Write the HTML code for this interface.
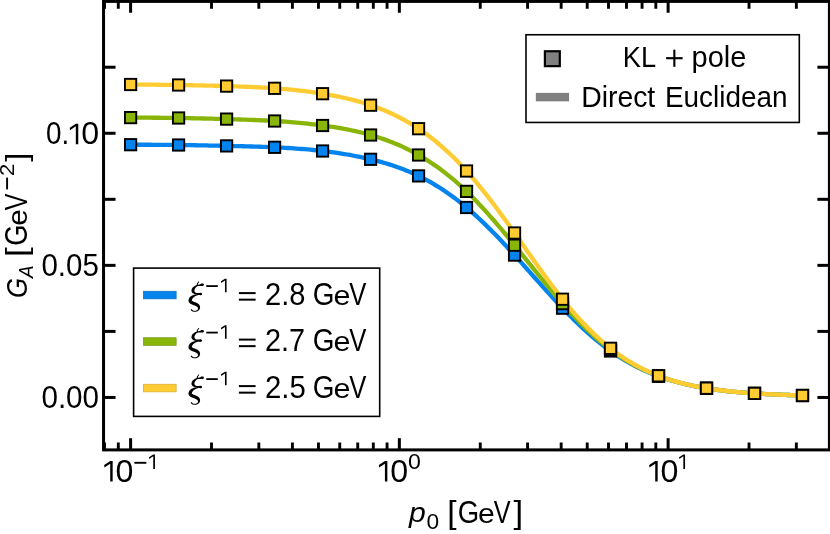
<!DOCTYPE html>
<html><head><meta charset="utf-8"><title>G_A vs p0</title>
<style>html,body{margin:0;padding:0;background:#fff;}svg{display:block;will-change:transform;}text{white-space:pre;}</style></head>
<body>
<svg width="830" height="534" viewBox="0 0 830 534" font-family="'Liberation Sans', sans-serif" font-size="27.0" fill="#000">
<rect x="0" y="0" width="830" height="534" fill="#fff"/>
<line x1="130.60" y1="449.90" x2="130.60" y2="438.20" stroke="#000" stroke-width="3.0"/>
<line x1="130.60" y1="0.00" x2="130.60" y2="12.75" stroke="#000" stroke-width="3.0"/>
<line x1="399.36" y1="449.90" x2="399.36" y2="438.20" stroke="#000" stroke-width="3.0"/>
<line x1="399.36" y1="0.00" x2="399.36" y2="12.75" stroke="#000" stroke-width="3.0"/>
<line x1="668.12" y1="449.90" x2="668.12" y2="438.20" stroke="#000" stroke-width="3.0"/>
<line x1="668.12" y1="0.00" x2="668.12" y2="12.75" stroke="#000" stroke-width="3.0"/>
<line x1="104.50" y1="449.90" x2="104.50" y2="442.50" stroke="#000" stroke-width="2.9"/>
<line x1="104.50" y1="0.00" x2="104.50" y2="8.76" stroke="#000" stroke-width="2.9"/>
<line x1="118.30" y1="449.90" x2="118.30" y2="442.50" stroke="#000" stroke-width="2.9"/>
<line x1="118.30" y1="0.00" x2="118.30" y2="8.76" stroke="#000" stroke-width="2.9"/>
<line x1="211.50" y1="449.90" x2="211.50" y2="442.50" stroke="#000" stroke-width="2.9"/>
<line x1="211.50" y1="0.00" x2="211.50" y2="8.76" stroke="#000" stroke-width="2.9"/>
<line x1="258.83" y1="449.90" x2="258.83" y2="442.50" stroke="#000" stroke-width="2.9"/>
<line x1="258.83" y1="0.00" x2="258.83" y2="8.76" stroke="#000" stroke-width="2.9"/>
<line x1="292.41" y1="449.90" x2="292.41" y2="442.50" stroke="#000" stroke-width="2.9"/>
<line x1="292.41" y1="0.00" x2="292.41" y2="8.76" stroke="#000" stroke-width="2.9"/>
<line x1="318.46" y1="449.90" x2="318.46" y2="442.50" stroke="#000" stroke-width="2.9"/>
<line x1="318.46" y1="0.00" x2="318.46" y2="8.76" stroke="#000" stroke-width="2.9"/>
<line x1="339.74" y1="449.90" x2="339.74" y2="442.50" stroke="#000" stroke-width="2.9"/>
<line x1="339.74" y1="0.00" x2="339.74" y2="8.76" stroke="#000" stroke-width="2.9"/>
<line x1="357.73" y1="449.90" x2="357.73" y2="442.50" stroke="#000" stroke-width="2.9"/>
<line x1="357.73" y1="0.00" x2="357.73" y2="8.76" stroke="#000" stroke-width="2.9"/>
<line x1="373.31" y1="449.90" x2="373.31" y2="442.50" stroke="#000" stroke-width="2.9"/>
<line x1="373.31" y1="0.00" x2="373.31" y2="8.76" stroke="#000" stroke-width="2.9"/>
<line x1="387.06" y1="449.90" x2="387.06" y2="442.50" stroke="#000" stroke-width="2.9"/>
<line x1="387.06" y1="0.00" x2="387.06" y2="8.76" stroke="#000" stroke-width="2.9"/>
<line x1="480.26" y1="449.90" x2="480.26" y2="442.50" stroke="#000" stroke-width="2.9"/>
<line x1="480.26" y1="0.00" x2="480.26" y2="8.76" stroke="#000" stroke-width="2.9"/>
<line x1="527.59" y1="449.90" x2="527.59" y2="442.50" stroke="#000" stroke-width="2.9"/>
<line x1="527.59" y1="0.00" x2="527.59" y2="8.76" stroke="#000" stroke-width="2.9"/>
<line x1="561.17" y1="449.90" x2="561.17" y2="442.50" stroke="#000" stroke-width="2.9"/>
<line x1="561.17" y1="0.00" x2="561.17" y2="8.76" stroke="#000" stroke-width="2.9"/>
<line x1="587.22" y1="449.90" x2="587.22" y2="442.50" stroke="#000" stroke-width="2.9"/>
<line x1="587.22" y1="0.00" x2="587.22" y2="8.76" stroke="#000" stroke-width="2.9"/>
<line x1="608.50" y1="449.90" x2="608.50" y2="442.50" stroke="#000" stroke-width="2.9"/>
<line x1="608.50" y1="0.00" x2="608.50" y2="8.76" stroke="#000" stroke-width="2.9"/>
<line x1="626.49" y1="449.90" x2="626.49" y2="442.50" stroke="#000" stroke-width="2.9"/>
<line x1="626.49" y1="0.00" x2="626.49" y2="8.76" stroke="#000" stroke-width="2.9"/>
<line x1="642.07" y1="449.90" x2="642.07" y2="442.50" stroke="#000" stroke-width="2.9"/>
<line x1="642.07" y1="0.00" x2="642.07" y2="8.76" stroke="#000" stroke-width="2.9"/>
<line x1="655.82" y1="449.90" x2="655.82" y2="442.50" stroke="#000" stroke-width="2.9"/>
<line x1="655.82" y1="0.00" x2="655.82" y2="8.76" stroke="#000" stroke-width="2.9"/>
<line x1="749.02" y1="449.90" x2="749.02" y2="442.50" stroke="#000" stroke-width="2.9"/>
<line x1="749.02" y1="0.00" x2="749.02" y2="8.76" stroke="#000" stroke-width="2.9"/>
<line x1="796.35" y1="449.90" x2="796.35" y2="442.50" stroke="#000" stroke-width="2.9"/>
<line x1="796.35" y1="0.00" x2="796.35" y2="8.76" stroke="#000" stroke-width="2.9"/>
<line x1="103.55" y1="397.45" x2="115.55" y2="397.45" stroke="#000" stroke-width="3.0"/>
<line x1="829.40" y1="397.45" x2="817.40" y2="397.45" stroke="#000" stroke-width="3.0"/>
<line x1="103.55" y1="331.40" x2="115.55" y2="331.40" stroke="#000" stroke-width="3.0"/>
<line x1="829.40" y1="331.40" x2="817.40" y2="331.40" stroke="#000" stroke-width="3.0"/>
<line x1="103.55" y1="265.36" x2="115.55" y2="265.36" stroke="#000" stroke-width="3.0"/>
<line x1="829.40" y1="265.36" x2="817.40" y2="265.36" stroke="#000" stroke-width="3.0"/>
<line x1="103.55" y1="199.31" x2="115.55" y2="199.31" stroke="#000" stroke-width="3.0"/>
<line x1="829.40" y1="199.31" x2="817.40" y2="199.31" stroke="#000" stroke-width="3.0"/>
<line x1="103.55" y1="133.27" x2="115.55" y2="133.27" stroke="#000" stroke-width="3.0"/>
<line x1="829.40" y1="133.27" x2="817.40" y2="133.27" stroke="#000" stroke-width="3.0"/>
<line x1="103.55" y1="67.22" x2="115.55" y2="67.22" stroke="#000" stroke-width="3.0"/>
<line x1="829.40" y1="67.22" x2="817.40" y2="67.22" stroke="#000" stroke-width="3.0"/>
<polyline points="130.60,144.70 133.41,144.71 136.22,144.72 139.03,144.73 141.85,144.74 144.66,144.75 147.47,144.76 150.28,144.77 153.09,144.78 155.90,144.80 158.71,144.82 161.52,144.84 164.34,144.86 167.15,144.88 169.96,144.91 172.77,144.93 175.58,144.96 178.39,145.00 181.20,145.03 184.01,145.07 186.83,145.12 189.64,145.16 192.45,145.21 195.26,145.26 198.07,145.31 200.88,145.36 203.69,145.42 206.51,145.47 209.32,145.53 212.13,145.59 214.94,145.65 217.75,145.71 220.56,145.77 223.37,145.83 226.18,145.89 229.00,145.95 231.81,146.01 234.62,146.07 237.43,146.14 240.24,146.20 243.05,146.27 245.86,146.33 248.67,146.41 251.49,146.48 254.30,146.56 257.11,146.65 259.92,146.73 262.73,146.83 265.54,146.93 268.35,147.04 271.17,147.15 273.98,147.27 276.79,147.40 279.60,147.54 282.41,147.69 285.22,147.84 288.03,148.01 290.84,148.18 293.66,148.37 296.47,148.57 299.28,148.78 302.09,149.00 304.90,149.23 307.71,149.47 310.52,149.73 313.33,150.01 316.15,150.29 318.96,150.59 321.77,150.91 324.58,151.24 327.39,151.58 330.20,151.95 333.01,152.33 335.83,152.72 338.64,153.14 341.45,153.57 344.26,154.03 347.07,154.50 349.88,154.99 352.69,155.51 355.50,156.04 358.32,156.60 361.13,157.18 363.94,157.78 366.75,158.41 369.56,159.06 372.37,159.74 375.18,160.44 377.99,161.17 380.81,161.93 383.62,162.72 386.43,163.55 389.24,164.41 392.05,165.30 394.86,166.24 397.67,167.22 400.49,168.23 403.30,169.29 406.11,170.40 408.92,171.56 411.73,172.76 414.54,174.02 417.35,175.32 420.16,176.69 422.98,178.10 425.79,179.58 428.60,181.11 431.41,182.69 434.22,184.34 437.03,186.04 439.84,187.80 442.65,189.62 445.47,191.49 448.28,193.43 451.09,195.43 453.90,197.48 456.71,199.60 459.52,201.78 462.33,204.02 465.15,206.33 467.96,208.69 470.77,211.12 473.58,213.60 476.39,216.15 479.20,218.75 482.01,221.40 484.82,224.10 487.64,226.84 490.45,229.64 493.26,232.47 496.07,235.35 498.88,238.27 501.69,241.22 504.50,244.20 507.31,247.22 510.13,250.26 512.94,253.33 515.75,256.43 518.56,259.55 521.37,262.68 524.18,265.83 526.99,268.99 529.81,272.15 532.62,275.32 535.43,278.49 538.24,281.65 541.05,284.80 543.86,287.94 546.67,291.06 549.48,294.17 552.30,297.25 555.11,300.30 557.92,303.32 560.73,306.30 563.54,309.25 566.35,312.15 569.16,315.01 571.97,317.83 574.79,320.59 577.60,323.31 580.41,325.98 583.22,328.60 586.03,331.16 588.84,333.67 591.65,336.12 594.47,338.52 597.28,340.85 600.09,343.12 602.90,345.33 605.71,347.48 608.52,349.56 611.33,351.57 614.14,353.51 616.96,355.38 619.77,357.19 622.58,358.94 625.39,360.62 628.20,362.24 631.01,363.80 633.82,365.30 636.63,366.75 639.45,368.14 642.26,369.47 645.07,370.75 647.88,371.98 650.69,373.16 653.50,374.30 656.31,375.38 659.13,376.42 661.94,377.41 664.75,378.37 667.56,379.28 670.37,380.14 673.18,380.98 675.99,381.77 678.80,382.52 681.62,383.25 684.43,383.93 687.24,384.59 690.05,385.21 692.86,385.80 695.67,386.37 698.48,386.91 701.30,387.42 704.11,387.90 706.92,388.36 709.73,388.80 712.54,389.22 715.35,389.62 718.16,390.00 720.97,390.36 723.79,390.70 726.60,391.02 729.41,391.32 732.22,391.61 735.03,391.88 737.84,392.14 740.65,392.38 743.46,392.61 746.28,392.83 749.09,393.04 751.90,393.23 754.71,393.41 757.52,393.59 760.33,393.75 763.14,393.91 765.96,394.05 768.77,394.19 771.58,394.33 774.39,394.45 777.20,394.57 780.01,394.69 782.82,394.80 785.63,394.91 788.45,395.01 791.26,395.11 794.07,395.21 796.88,395.31 799.69,395.40 802.50,395.50" fill="none" stroke="#0383ee" stroke-width="4.3" stroke-linecap="butt" stroke-linejoin="round"/>
<polyline points="130.60,117.60 133.41,117.61 136.22,117.63 139.03,117.64 141.85,117.66 144.66,117.67 147.47,117.69 150.28,117.71 153.09,117.73 155.90,117.75 158.71,117.77 161.52,117.80 164.34,117.82 167.15,117.85 169.96,117.88 172.77,117.92 175.58,117.96 178.39,118.00 181.20,118.04 184.01,118.09 186.83,118.14 189.64,118.19 192.45,118.25 195.26,118.31 198.07,118.37 200.88,118.43 203.69,118.50 206.51,118.57 209.32,118.64 212.13,118.71 214.94,118.78 217.75,118.86 220.56,118.93 223.37,119.01 226.18,119.09 229.00,119.17 231.81,119.25 234.62,119.33 237.43,119.42 240.24,119.50 243.05,119.60 245.86,119.69 248.67,119.79 251.49,119.89 254.30,120.00 257.11,120.12 259.92,120.24 262.73,120.37 265.54,120.51 268.35,120.65 271.17,120.80 273.98,120.96 276.79,121.14 279.60,121.32 282.41,121.51 285.22,121.71 288.03,121.92 290.84,122.14 293.66,122.38 296.47,122.62 299.28,122.88 302.09,123.15 304.90,123.43 307.71,123.72 310.52,124.03 313.33,124.35 316.15,124.69 318.96,125.03 321.77,125.39 324.58,125.77 327.39,126.16 330.20,126.57 333.01,126.99 335.83,127.44 338.64,127.90 341.45,128.39 344.26,128.90 347.07,129.43 349.88,129.99 352.69,130.57 355.50,131.19 358.32,131.83 361.13,132.50 363.94,133.21 366.75,133.94 369.56,134.72 372.37,135.52 375.18,136.37 377.99,137.25 380.81,138.17 383.62,139.13 386.43,140.14 389.24,141.19 392.05,142.28 394.86,143.42 397.67,144.60 400.49,145.83 403.30,147.12 406.11,148.45 408.92,149.84 411.73,151.28 414.54,152.77 417.35,154.32 420.16,155.93 422.98,157.59 425.79,159.31 428.60,161.10 431.41,162.94 434.22,164.85 437.03,166.81 439.84,168.84 442.65,170.94 445.47,173.10 448.28,175.32 451.09,177.61 453.90,179.96 456.71,182.38 459.52,184.87 462.33,187.43 465.15,190.06 467.96,192.76 470.77,195.53 473.58,198.36 476.39,201.25 479.20,204.21 482.01,207.22 484.82,210.29 487.64,213.41 490.45,216.57 493.26,219.78 496.07,223.03 498.88,226.32 501.69,229.64 504.50,233.00 507.31,236.38 510.13,239.79 512.94,243.23 515.75,246.68 518.56,250.15 521.37,253.64 524.18,257.13 526.99,260.62 529.81,264.12 532.62,267.62 535.43,271.10 538.24,274.58 541.05,278.04 543.86,281.48 546.67,284.90 549.48,288.30 552.30,291.66 555.11,294.99 557.92,298.28 560.73,301.53 563.54,304.74 566.35,307.89 569.16,311.00 571.97,314.05 574.79,317.05 577.60,319.99 580.41,322.88 583.22,325.70 586.03,328.46 588.84,331.17 591.65,333.80 594.47,336.37 597.28,338.87 600.09,341.31 602.90,343.67 605.71,345.95 608.52,348.17 611.33,350.30 614.14,352.36 616.96,354.34 619.77,356.25 622.58,358.09 625.39,359.85 628.20,361.55 631.01,363.18 633.82,364.75 636.63,366.25 639.45,367.70 642.26,369.08 645.07,370.40 647.88,371.67 650.69,372.89 653.50,374.05 656.31,375.16 659.13,376.22 661.94,377.24 664.75,378.21 667.56,379.14 670.37,380.02 673.18,380.87 675.99,381.67 678.80,382.43 681.62,383.16 684.43,383.86 687.24,384.52 690.05,385.14 692.86,385.74 695.67,386.31 698.48,386.85 701.30,387.36 704.11,387.85 706.92,388.32 709.73,388.76 712.54,389.18 715.35,389.58 718.16,389.96 720.97,390.32 723.79,390.66 726.60,390.99 729.41,391.30 732.22,391.59 735.03,391.86 737.84,392.13 740.65,392.37 743.46,392.60 746.28,392.82 749.09,393.03 751.90,393.23 754.71,393.41 757.52,393.59 760.33,393.75 763.14,393.91 765.96,394.06 768.77,394.20 771.58,394.33 774.39,394.46 777.20,394.58 780.01,394.70 782.82,394.81 785.63,394.91 788.45,395.02 791.26,395.12 794.07,395.21 796.88,395.31 799.69,395.41 802.50,395.50" fill="none" stroke="#89b509" stroke-width="4.3" stroke-linecap="butt" stroke-linejoin="round"/>
<polyline points="130.60,84.50 133.41,84.52 136.22,84.54 139.03,84.57 141.85,84.59 144.66,84.61 147.47,84.64 150.28,84.66 153.09,84.69 155.90,84.72 158.71,84.75 161.52,84.78 164.34,84.81 167.15,84.84 169.96,84.88 172.77,84.91 175.58,84.95 178.39,85.00 181.20,85.04 184.01,85.09 186.83,85.14 189.64,85.19 192.45,85.25 195.26,85.30 198.07,85.36 200.88,85.42 203.69,85.49 206.51,85.56 209.32,85.63 212.13,85.70 214.94,85.77 217.75,85.85 220.56,85.92 223.37,86.01 226.18,86.09 229.00,86.17 231.81,86.26 234.62,86.35 237.43,86.45 240.24,86.55 243.05,86.65 245.86,86.76 248.67,86.87 251.49,86.99 254.30,87.12 257.11,87.26 259.92,87.40 262.73,87.55 265.54,87.71 268.35,87.89 271.17,88.07 273.98,88.26 276.79,88.46 279.60,88.67 282.41,88.90 285.22,89.14 288.03,89.39 290.84,89.66 293.66,89.94 296.47,90.23 299.28,90.54 302.09,90.86 304.90,91.20 307.71,91.55 310.52,91.92 313.33,92.31 316.15,92.71 318.96,93.13 321.77,93.57 324.58,94.03 327.39,94.51 330.20,95.00 333.01,95.52 335.83,96.07 338.64,96.63 341.45,97.23 344.26,97.85 347.07,98.49 349.88,99.17 352.69,99.88 355.50,100.62 358.32,101.40 361.13,102.21 363.94,103.06 366.75,103.94 369.56,104.86 372.37,105.82 375.18,106.83 377.99,107.87 380.81,108.97 383.62,110.10 386.43,111.29 389.24,112.52 392.05,113.81 394.86,115.14 397.67,116.53 400.49,117.98 403.30,119.48 406.11,121.04 408.92,122.67 411.73,124.35 414.54,126.09 417.35,127.90 420.16,129.78 422.98,131.72 425.79,133.73 428.60,135.81 431.41,137.96 434.22,140.18 437.03,142.47 439.84,144.84 442.65,147.27 445.47,149.78 448.28,152.36 451.09,155.02 453.90,157.75 456.71,160.56 459.52,163.44 462.33,166.41 465.15,169.45 467.96,172.57 470.77,175.77 473.58,179.04 476.39,182.39 479.20,185.80 482.01,189.28 484.82,192.81 487.64,196.41 490.45,200.05 493.26,203.75 496.07,207.49 498.88,211.28 501.69,215.11 504.50,218.97 507.31,222.86 510.13,226.78 512.94,230.73 515.75,234.70 518.56,238.69 521.37,242.69 524.18,246.70 526.99,250.71 529.81,254.71 532.62,258.71 535.43,262.69 538.24,266.64 541.05,270.58 543.86,274.48 546.67,278.34 549.48,282.17 552.30,285.94 555.11,289.66 557.92,293.32 560.73,296.92 563.54,300.45 566.35,303.91 569.16,307.29 571.97,310.60 574.79,313.83 577.60,316.99 580.41,320.08 583.22,323.09 586.03,326.02 588.84,328.87 591.65,331.65 594.47,334.36 597.28,336.98 600.09,339.53 602.90,342.00 605.71,344.39 608.52,346.70 611.33,348.93 614.14,351.08 616.96,353.16 619.77,355.15 622.58,357.08 625.39,358.93 628.20,360.71 631.01,362.42 633.82,364.06 636.63,365.63 639.45,367.14 642.26,368.59 645.07,369.98 647.88,371.30 650.69,372.57 653.50,373.78 656.31,374.93 659.13,376.03 661.94,377.08 664.75,378.08 667.56,379.03 670.37,379.93 673.18,380.79 675.99,381.61 678.80,382.38 681.62,383.11 684.43,383.81 687.24,384.47 690.05,385.10 692.86,385.70 695.67,386.27 698.48,386.80 701.30,387.31 704.11,387.80 706.92,388.26 709.73,388.71 712.54,389.13 715.35,389.53 718.16,389.91 720.97,390.28 723.79,390.62 726.60,390.95 729.41,391.26 732.22,391.56 735.03,391.84 737.84,392.10 740.65,392.35 743.46,392.59 746.28,392.81 749.09,393.03 751.90,393.22 754.71,393.41 757.52,393.59 760.33,393.76 763.14,393.92 765.96,394.07 768.77,394.21 771.58,394.34 774.39,394.47 777.20,394.59 780.01,394.70 782.82,394.82 785.63,394.92 788.45,395.02 791.26,395.12 794.07,395.22 796.88,395.31 799.69,395.41 802.50,395.50" fill="none" stroke="#ffcb33" stroke-width="4.3" stroke-linecap="butt" stroke-linejoin="round"/>
<rect x="124.95" y="139.05" width="11.3" height="11.3" fill="#0383ee" stroke="#000" stroke-width="1.9"/>
<rect x="172.94" y="139.35" width="11.3" height="11.3" fill="#0383ee" stroke="#000" stroke-width="1.9"/>
<rect x="220.94" y="140.25" width="11.3" height="11.3" fill="#0383ee" stroke="#000" stroke-width="1.9"/>
<rect x="268.93" y="141.65" width="11.3" height="11.3" fill="#0383ee" stroke="#000" stroke-width="1.9"/>
<rect x="316.92" y="145.35" width="11.3" height="11.3" fill="#0383ee" stroke="#000" stroke-width="1.9"/>
<rect x="364.92" y="153.65" width="11.3" height="11.3" fill="#0383ee" stroke="#000" stroke-width="1.9"/>
<rect x="412.91" y="170.25" width="11.3" height="11.3" fill="#0383ee" stroke="#000" stroke-width="1.9"/>
<rect x="460.90" y="201.85" width="11.3" height="11.3" fill="#0383ee" stroke="#000" stroke-width="1.9"/>
<rect x="508.89" y="249.45" width="11.3" height="11.3" fill="#0383ee" stroke="#000" stroke-width="1.9"/>
<rect x="556.89" y="302.55" width="11.3" height="11.3" fill="#0383ee" stroke="#000" stroke-width="1.9"/>
<rect x="604.88" y="345.35" width="11.3" height="11.3" fill="#0383ee" stroke="#000" stroke-width="1.9"/>
<rect x="652.87" y="370.55" width="11.3" height="11.3" fill="#0383ee" stroke="#000" stroke-width="1.9"/>
<rect x="700.87" y="382.65" width="11.3" height="11.3" fill="#0383ee" stroke="#000" stroke-width="1.9"/>
<rect x="748.86" y="387.75" width="11.3" height="11.3" fill="#0383ee" stroke="#000" stroke-width="1.9"/>
<rect x="796.85" y="389.85" width="11.3" height="11.3" fill="#0383ee" stroke="#000" stroke-width="1.9"/>
<rect x="124.95" y="111.95" width="11.3" height="11.3" fill="#89b509" stroke="#000" stroke-width="1.9"/>
<rect x="172.94" y="112.35" width="11.3" height="11.3" fill="#89b509" stroke="#000" stroke-width="1.9"/>
<rect x="220.94" y="113.45" width="11.3" height="11.3" fill="#89b509" stroke="#000" stroke-width="1.9"/>
<rect x="268.93" y="115.35" width="11.3" height="11.3" fill="#89b509" stroke="#000" stroke-width="1.9"/>
<rect x="316.92" y="119.85" width="11.3" height="11.3" fill="#89b509" stroke="#000" stroke-width="1.9"/>
<rect x="364.92" y="129.35" width="11.3" height="11.3" fill="#89b509" stroke="#000" stroke-width="1.9"/>
<rect x="412.91" y="149.35" width="11.3" height="11.3" fill="#89b509" stroke="#000" stroke-width="1.9"/>
<rect x="460.90" y="185.75" width="11.3" height="11.3" fill="#89b509" stroke="#000" stroke-width="1.9"/>
<rect x="508.89" y="239.55" width="11.3" height="11.3" fill="#89b509" stroke="#000" stroke-width="1.9"/>
<rect x="556.89" y="297.95" width="11.3" height="11.3" fill="#89b509" stroke="#000" stroke-width="1.9"/>
<rect x="604.88" y="344.05" width="11.3" height="11.3" fill="#89b509" stroke="#000" stroke-width="1.9"/>
<rect x="652.87" y="370.35" width="11.3" height="11.3" fill="#89b509" stroke="#000" stroke-width="1.9"/>
<rect x="700.87" y="382.60" width="11.3" height="11.3" fill="#89b509" stroke="#000" stroke-width="1.9"/>
<rect x="748.86" y="387.75" width="11.3" height="11.3" fill="#89b509" stroke="#000" stroke-width="1.9"/>
<rect x="796.85" y="389.85" width="11.3" height="11.3" fill="#89b509" stroke="#000" stroke-width="1.9"/>
<rect x="124.95" y="78.85" width="11.3" height="11.3" fill="#ffcb33" stroke="#000" stroke-width="1.9"/>
<rect x="172.94" y="79.35" width="11.3" height="11.3" fill="#ffcb33" stroke="#000" stroke-width="1.9"/>
<rect x="220.94" y="80.45" width="11.3" height="11.3" fill="#ffcb33" stroke="#000" stroke-width="1.9"/>
<rect x="268.93" y="82.65" width="11.3" height="11.3" fill="#ffcb33" stroke="#000" stroke-width="1.9"/>
<rect x="316.92" y="88.05" width="11.3" height="11.3" fill="#ffcb33" stroke="#000" stroke-width="1.9"/>
<rect x="364.92" y="99.55" width="11.3" height="11.3" fill="#ffcb33" stroke="#000" stroke-width="1.9"/>
<rect x="412.91" y="123.05" width="11.3" height="11.3" fill="#ffcb33" stroke="#000" stroke-width="1.9"/>
<rect x="460.90" y="165.35" width="11.3" height="11.3" fill="#ffcb33" stroke="#000" stroke-width="1.9"/>
<rect x="508.89" y="227.35" width="11.3" height="11.3" fill="#ffcb33" stroke="#000" stroke-width="1.9"/>
<rect x="556.89" y="293.55" width="11.3" height="11.3" fill="#ffcb33" stroke="#000" stroke-width="1.9"/>
<rect x="604.88" y="342.65" width="11.3" height="11.3" fill="#ffcb33" stroke="#000" stroke-width="1.9"/>
<rect x="652.87" y="370.15" width="11.3" height="11.3" fill="#ffcb33" stroke="#000" stroke-width="1.9"/>
<rect x="700.87" y="382.55" width="11.3" height="11.3" fill="#ffcb33" stroke="#000" stroke-width="1.9"/>
<rect x="748.86" y="387.75" width="11.3" height="11.3" fill="#ffcb33" stroke="#000" stroke-width="1.9"/>
<rect x="796.85" y="389.85" width="11.3" height="11.3" fill="#ffcb33" stroke="#000" stroke-width="1.9"/>
<rect x="103.55" y="1.4" width="725.85" height="448.50" fill="none" stroke="#000" stroke-width="3.0"/>
<text transform="translate(45.99,144.30) scale(0.9115,1)" font-size="30.50">0.</text>
<path d="M75.82,123.70 L78.26,123.70 L78.26,144.30 L75.82,144.30 L75.82,126.35 L70.00,130.23 L69.80,127.68Z" fill="#000"/>
<text transform="translate(81.21,144.30) scale(1.0561,1)" font-size="30.50">0</text>
<text transform="translate(41.42,276.39) scale(0.9669,1)" font-size="30.50">0.05</text>
<text transform="translate(41.42,408.48) scale(0.9704,1)" font-size="30.50">0.00</text>
<path d="M110.22,461.00 L112.66,461.00 L112.66,481.60 L110.22,481.60 L110.22,463.65 L104.40,467.53 L104.20,464.98Z" fill="#000"/>
<text transform="translate(115.61,481.75) scale(1.0561,1)" font-size="30.50">0</text>
<rect x="134.40" y="461.85" width="12.00" height="1.90" fill="#000"/>
<path d="M153.24,454.40 L154.96,454.40 L154.96,468.90 L153.24,468.90 L153.24,456.27 L149.14,458.99 L149.00,457.20Z" fill="#000"/>
<path d="M384.92,461.00 L387.36,461.00 L387.36,481.60 L384.92,481.60 L384.92,463.65 L379.10,467.53 L378.90,464.98Z" fill="#000"/>
<text transform="translate(390.31,481.75) scale(1.0561,1)" font-size="30.50">0</text>
<text transform="translate(407.97,468.95) scale(1.0431,1)" font-size="22.20">0</text>
<path d="M655.22,461.00 L657.66,461.00 L657.66,481.60 L655.22,481.60 L655.22,463.65 L649.40,467.53 L649.20,464.98Z" fill="#000"/>
<text transform="translate(660.61,481.75) scale(1.0561,1)" font-size="30.50">0</text>
<path d="M683.34,454.40 L685.06,454.40 L685.06,468.90 L683.34,468.90 L683.34,456.27 L679.24,458.99 L679.10,457.20Z" fill="#000"/>
<text transform="translate(409.05,522.40) scale(1.1096,1)" font-size="27.20" font-style="italic">p</text>
<text transform="translate(426.49,529.00) scale(1.0625,1)" font-size="21.40">0</text>
<text transform="translate(447.16,522.75) scale(1.0824,1)" font-size="30.95">[</text>
<text transform="translate(457.72,522.70) scale(0.9037,1)" font-size="30.50">G</text><text transform="translate(478.07,522.70) scale(1.0798,1)" font-size="27.90">e</text><text transform="translate(493.70,522.70) scale(0.8296,1)" font-size="30.50">V</text>
<text transform="translate(513.55,522.75) scale(1.1267,1)" font-size="30.95">]</text>
<g transform="translate(26.9,300.0) rotate(-90)">
<text transform="translate(2.02,0.00) scale(0.8799,1)" font-size="29.20" font-style="italic">G</text>
<text transform="translate(22.05,5.90) scale(0.9190,1)" font-size="20.60" font-style="italic">A</text>
<text transform="translate(43.12,0.00) scale(1.1755,1)" font-size="30.20">[</text>
<text transform="translate(54.14,0.10) scale(0.8949,1)" font-size="30.50">G</text><text transform="translate(74.28,0.10) scale(1.0693,1)" font-size="27.90">e</text><text transform="translate(89.76,0.10) scale(0.8215,1)" font-size="30.50">V</text>
<rect x="110.60" y="-20.75" width="11.80" height="1.90" fill="#000"/>
<text transform="translate(124.09,-12.60) scale(1.0776,1)" font-size="20.60">2</text>
<text transform="translate(138.37,0.00) scale(1.0868,1)" font-size="30.20">]</text>
</g>
<rect x="526.0" y="34.75" width="273.3" height="87.7" fill="#fff" stroke="#000" stroke-width="1.6"/>
<rect x="544.9" y="51.25" width="14.9" height="14.9" fill="#808080" stroke="#000" stroke-width="2.2"/>
<rect x="536.2" y="93.25" width="32.5" height="7.7" fill="#808080" stroke="#6e6e6e" stroke-width="0.7"/>
<text transform="translate(622.82,67.20) scale(0.8979,1)" font-size="30.30">KL</text>
<rect x="666.10" y="57.15" width="16.50" height="2.10" fill="#000"/>
<rect x="673.30" y="49.70" width="2.10" height="17.10" fill="#000"/>
<text transform="translate(691.52,67.20) scale(1.0031,1)" font-size="28.90">pole</text>
<text transform="translate(581.13,106.85) scale(0.9626,1)" font-size="29.50">Direct</text>
<text transform="translate(664.97,106.85) scale(0.9455,1)" font-size="29.50">Euclidean</text>
<rect x="133.6" y="268.1" width="246.1" height="148.3" fill="#fff" stroke="#000" stroke-width="1.6"/>
<rect x="143.35" y="291.25" width="32.8" height="7.6" fill="#0383ee" stroke="#0a6fc8" stroke-width="0.7"/>
<g transform="translate(183.00,277.00) scale(0.07500)" fill="#000"><path d="M204.3,62.1 L203.8,63.6 L202.8,65.4 L201.5,67.4 L200.0,69.5 L198.1,71.7 L196.2,74.1 L194.1,76.5 L192.0,79.0 L190.0,81.6 L188.0,84.3 L186.3,87.2 L184.7,90.3 L183.6,93.7 L182.9,97.4 L183.0,101.4 L184.0,105.5 L185.9,109.4 L188.6,113.0 L192.1,116.3 L195.3,117.8 L198.9,117.8 L202.1,116.2 L204.3,113.4 L205.0,109.9 L204.2,106.4 L201.9,103.7 L199.8,102.1 L198.5,100.8 L197.7,99.8 L197.3,98.9 L197.0,97.8 L197.0,96.5 L197.3,94.9 L197.9,93.0 L198.9,90.9 L200.2,88.7 L201.8,86.4 L203.5,84.0 L205.4,81.5 L207.3,79.1 L209.2,76.6 L211.1,74.1 L212.8,71.5 L214.4,68.8 L215.7,65.9 L216.0,63.3 L215.1,60.8 L213.2,58.9 L210.6,58.0 L208.0,58.4 L205.7,59.8Z"/><path d="M260.0,85.1 L254.2,85.3 L248.8,86.4 L243.8,88.2 L239.2,90.5 L234.9,93.0 L230.7,95.5 L226.6,97.7 L222.4,99.4 L217.8,100.7 L213.0,101.7 L207.9,102.5 L202.6,103.3 L197.2,104.3 L191.9,105.4 L186.6,106.7 L181.4,108.2 L176.1,109.9 L170.9,111.8 L165.8,113.9 L160.7,116.3 L155.8,118.9 L150.9,121.8 L146.2,125.0 L141.6,128.6 L137.2,132.5 L133.0,136.7 L129.0,141.3 L125.3,146.3 L121.9,151.6 L118.9,157.4 L116.3,163.7 L114.4,170.4 L113.3,177.6 L113.2,185.1 L114.5,192.9 L117.3,200.5 L121.3,207.1 L126.1,212.7 L131.4,217.4 L137.2,221.3 L143.1,224.4 L149.1,226.7 L155.1,228.4 L160.9,229.6 L166.6,230.4 L172.1,230.9 L177.5,231.4 L182.8,231.8 L187.9,232.4 L192.9,233.2 L197.8,234.3 L202.7,235.7 L207.6,237.2 L212.6,238.7 L217.7,240.1 L222.8,241.2 L228.1,241.9 L233.4,242.0 L238.8,241.5 L245.4,239.6 L250.6,235.1 L253.3,228.7 L252.9,221.8 L249.6,215.7 L244.0,211.7 L237.2,210.5 L232.7,210.3 L228.2,210.5 L223.7,211.1 L219.1,211.8 L214.4,212.6 L209.6,213.3 L204.7,214.0 L199.8,214.4 L194.9,214.5 L190.0,214.3 L185.3,213.6 L180.7,212.6 L176.3,211.2 L172.3,209.4 L168.6,207.4 L165.2,205.0 L162.2,202.4 L159.7,199.6 L157.4,196.6 L155.6,193.6 L154.2,190.7 L153.3,188.0 L152.9,185.9 L152.7,184.2 L152.6,182.4 L152.6,180.1 L152.7,177.4 L153.1,174.2 L153.8,170.7 L154.8,167.1 L156.0,163.4 L157.5,159.8 L159.2,156.2 L161.1,152.7 L163.3,149.3 L165.7,145.9 L168.3,142.6 L171.2,139.3 L174.3,136.2 L177.6,133.1 L181.1,130.3 L184.7,127.6 L188.5,125.2 L192.5,123.1 L196.6,121.4 L200.9,120.0 L205.2,119.1 L209.6,118.6 L214.3,118.5 L219.2,118.7 L224.4,119.1 L230.0,119.7 L235.5,120.2 L241.0,120.7 L246.2,121.0 L251.2,121.1 L255.9,120.8 L260.1,120.2 L264.0,118.9 L271.1,116.3 L276.5,111.0 L278.9,103.8 L278.0,96.3 L273.9,89.9 L267.5,85.9Z"/><path d="M238.3,220.0 L232.0,220.8 L225.7,221.7 L219.5,222.6 L213.4,223.5 L207.2,224.4 L201.1,225.4 L195.1,226.4 L189.0,227.6 L182.9,228.7 L176.8,230.0 L170.8,231.4 L164.7,232.9 L158.6,234.5 L152.6,236.2 L146.5,238.1 L140.5,240.2 L134.4,242.4 L128.4,244.8 L122.3,247.4 L116.3,250.5 L110.2,253.9 L104.2,258.0 L98.4,262.6 L92.8,267.9 L87.7,274.0 L83.0,280.8 L79.1,288.4 L75.9,296.6 L73.9,305.6 L73.2,315.2 L74.6,325.6 L78.6,335.9 L84.6,344.3 L91.4,350.7 L98.5,355.8 L105.7,359.8 L112.7,363.1 L119.4,365.9 L125.7,368.4 L131.7,370.7 L137.4,372.9 L142.9,375.1 L148.1,377.1 L153.2,379.2 L158.0,381.3 L162.7,383.4 L167.2,385.6 L171.7,387.9 L176.0,390.3 L180.0,392.7 L183.6,395.1 L186.8,397.4 L189.6,399.8 L192.2,402.1 L194.5,404.8 L196.7,408.0 L198.4,411.8 L199.6,415.8 L200.1,420.0 L199.8,424.1 L198.4,428.4 L196.1,432.6 L193.0,436.6 L189.2,440.2 L184.9,443.4 L180.2,446.1 L175.3,448.2 L170.2,449.8 L165.0,450.9 L159.6,451.4 L154.2,451.5 L148.8,451.0 L143.5,450.0 L138.5,448.4 L133.8,446.3 L129.5,443.6 L125.8,440.3 L122.8,436.5 L120.6,432.2 L117.7,429.3 L113.9,428.0 L110.0,428.5 L106.6,430.7 L104.5,434.1 L104.1,438.1 L105.4,441.8 L110.5,447.3 L116.0,451.8 L121.8,455.6 L127.8,458.6 L134.1,461.0 L140.5,462.7 L147.1,463.9 L153.6,464.5 L160.2,464.5 L166.8,463.9 L173.2,462.8 L179.6,461.2 L185.9,459.0 L192.1,456.3 L198.1,453.0 L203.9,449.2 L209.5,444.7 L214.6,439.4 L219.2,433.4 L223.0,426.4 L225.8,418.7 L227.4,410.6 L227.8,402.3 L226.9,393.7 L224.6,385.3 L220.9,377.5 L216.2,370.6 L210.9,364.5 L205.1,359.2 L199.1,354.7 L193.1,350.8 L187.1,347.4 L181.2,344.4 L175.3,341.7 L169.5,339.3 L163.8,337.0 L158.2,334.9 L152.6,332.9 L147.1,330.8 L141.6,328.6 L136.2,326.2 L131.0,323.8 L126.4,321.3 L122.7,318.9 L120.0,316.7 L118.6,315.1 L118.1,314.3 L118.2,314.4 L118.0,313.5 L117.9,311.2 L118.3,308.0 L119.1,304.2 L120.4,300.2 L122.0,296.3 L123.9,292.6 L126.2,288.8 L128.9,285.1 L132.0,281.5 L135.5,277.8 L139.3,274.2 L143.5,270.7 L147.9,267.2 L152.5,263.9 L157.1,260.7 L161.9,257.7 L166.8,254.9 L171.8,252.2 L176.9,249.8 L182.1,247.6 L187.4,245.7 L192.8,244.0 L198.3,242.6 L203.8,241.5 L209.4,240.7 L215.1,240.3 L220.7,240.2 L226.4,240.4 L232.1,241.0 L237.7,242.0 L242.5,241.0 L246.4,238.1 L248.6,233.8 L248.8,228.9 L246.8,224.4 L243.1,221.2Z"/></g>
<rect x="206.30" y="285.20" width="11.50" height="1.80" fill="#000"/>
<path d="M224.97,278.70 L226.59,278.70 L226.59,292.30 L224.97,292.30 L224.97,280.45 L221.13,283.01 L221.00,281.33Z" fill="#000"/>
<rect x="238.90" y="292.10" width="16.70" height="2.00" fill="#000"/>
<rect x="238.90" y="298.65" width="16.70" height="2.00" fill="#000"/>
<text transform="translate(264.94,304.75) scale(0.9483,1)" font-size="30.70">2.8</text>
<text transform="translate(312.80,304.65) scale(0.9160,1)" font-size="30.50">G</text><text transform="translate(333.43,304.65) scale(1.0945,1)" font-size="27.90">e</text><text transform="translate(349.27,304.65) scale(0.8409,1)" font-size="30.50">V</text>
<rect x="143.35" y="337.75" width="32.8" height="7.6" fill="#89b509" stroke="#6f990d" stroke-width="0.7"/>
<g transform="translate(183.00,323.50) scale(0.07500)" fill="#000"><path d="M204.3,62.1 L203.8,63.6 L202.8,65.4 L201.5,67.4 L200.0,69.5 L198.1,71.7 L196.2,74.1 L194.1,76.5 L192.0,79.0 L190.0,81.6 L188.0,84.3 L186.3,87.2 L184.7,90.3 L183.6,93.7 L182.9,97.4 L183.0,101.4 L184.0,105.5 L185.9,109.4 L188.6,113.0 L192.1,116.3 L195.3,117.8 L198.9,117.8 L202.1,116.2 L204.3,113.4 L205.0,109.9 L204.2,106.4 L201.9,103.7 L199.8,102.1 L198.5,100.8 L197.7,99.8 L197.3,98.9 L197.0,97.8 L197.0,96.5 L197.3,94.9 L197.9,93.0 L198.9,90.9 L200.2,88.7 L201.8,86.4 L203.5,84.0 L205.4,81.5 L207.3,79.1 L209.2,76.6 L211.1,74.1 L212.8,71.5 L214.4,68.8 L215.7,65.9 L216.0,63.3 L215.1,60.8 L213.2,58.9 L210.6,58.0 L208.0,58.4 L205.7,59.8Z"/><path d="M260.0,85.1 L254.2,85.3 L248.8,86.4 L243.8,88.2 L239.2,90.5 L234.9,93.0 L230.7,95.5 L226.6,97.7 L222.4,99.4 L217.8,100.7 L213.0,101.7 L207.9,102.5 L202.6,103.3 L197.2,104.3 L191.9,105.4 L186.6,106.7 L181.4,108.2 L176.1,109.9 L170.9,111.8 L165.8,113.9 L160.7,116.3 L155.8,118.9 L150.9,121.8 L146.2,125.0 L141.6,128.6 L137.2,132.5 L133.0,136.7 L129.0,141.3 L125.3,146.3 L121.9,151.6 L118.9,157.4 L116.3,163.7 L114.4,170.4 L113.3,177.6 L113.2,185.1 L114.5,192.9 L117.3,200.5 L121.3,207.1 L126.1,212.7 L131.4,217.4 L137.2,221.3 L143.1,224.4 L149.1,226.7 L155.1,228.4 L160.9,229.6 L166.6,230.4 L172.1,230.9 L177.5,231.4 L182.8,231.8 L187.9,232.4 L192.9,233.2 L197.8,234.3 L202.7,235.7 L207.6,237.2 L212.6,238.7 L217.7,240.1 L222.8,241.2 L228.1,241.9 L233.4,242.0 L238.8,241.5 L245.4,239.6 L250.6,235.1 L253.3,228.7 L252.9,221.8 L249.6,215.7 L244.0,211.7 L237.2,210.5 L232.7,210.3 L228.2,210.5 L223.7,211.1 L219.1,211.8 L214.4,212.6 L209.6,213.3 L204.7,214.0 L199.8,214.4 L194.9,214.5 L190.0,214.3 L185.3,213.6 L180.7,212.6 L176.3,211.2 L172.3,209.4 L168.6,207.4 L165.2,205.0 L162.2,202.4 L159.7,199.6 L157.4,196.6 L155.6,193.6 L154.2,190.7 L153.3,188.0 L152.9,185.9 L152.7,184.2 L152.6,182.4 L152.6,180.1 L152.7,177.4 L153.1,174.2 L153.8,170.7 L154.8,167.1 L156.0,163.4 L157.5,159.8 L159.2,156.2 L161.1,152.7 L163.3,149.3 L165.7,145.9 L168.3,142.6 L171.2,139.3 L174.3,136.2 L177.6,133.1 L181.1,130.3 L184.7,127.6 L188.5,125.2 L192.5,123.1 L196.6,121.4 L200.9,120.0 L205.2,119.1 L209.6,118.6 L214.3,118.5 L219.2,118.7 L224.4,119.1 L230.0,119.7 L235.5,120.2 L241.0,120.7 L246.2,121.0 L251.2,121.1 L255.9,120.8 L260.1,120.2 L264.0,118.9 L271.1,116.3 L276.5,111.0 L278.9,103.8 L278.0,96.3 L273.9,89.9 L267.5,85.9Z"/><path d="M238.3,220.0 L232.0,220.8 L225.7,221.7 L219.5,222.6 L213.4,223.5 L207.2,224.4 L201.1,225.4 L195.1,226.4 L189.0,227.6 L182.9,228.7 L176.8,230.0 L170.8,231.4 L164.7,232.9 L158.6,234.5 L152.6,236.2 L146.5,238.1 L140.5,240.2 L134.4,242.4 L128.4,244.8 L122.3,247.4 L116.3,250.5 L110.2,253.9 L104.2,258.0 L98.4,262.6 L92.8,267.9 L87.7,274.0 L83.0,280.8 L79.1,288.4 L75.9,296.6 L73.9,305.6 L73.2,315.2 L74.6,325.6 L78.6,335.9 L84.6,344.3 L91.4,350.7 L98.5,355.8 L105.7,359.8 L112.7,363.1 L119.4,365.9 L125.7,368.4 L131.7,370.7 L137.4,372.9 L142.9,375.1 L148.1,377.1 L153.2,379.2 L158.0,381.3 L162.7,383.4 L167.2,385.6 L171.7,387.9 L176.0,390.3 L180.0,392.7 L183.6,395.1 L186.8,397.4 L189.6,399.8 L192.2,402.1 L194.5,404.8 L196.7,408.0 L198.4,411.8 L199.6,415.8 L200.1,420.0 L199.8,424.1 L198.4,428.4 L196.1,432.6 L193.0,436.6 L189.2,440.2 L184.9,443.4 L180.2,446.1 L175.3,448.2 L170.2,449.8 L165.0,450.9 L159.6,451.4 L154.2,451.5 L148.8,451.0 L143.5,450.0 L138.5,448.4 L133.8,446.3 L129.5,443.6 L125.8,440.3 L122.8,436.5 L120.6,432.2 L117.7,429.3 L113.9,428.0 L110.0,428.5 L106.6,430.7 L104.5,434.1 L104.1,438.1 L105.4,441.8 L110.5,447.3 L116.0,451.8 L121.8,455.6 L127.8,458.6 L134.1,461.0 L140.5,462.7 L147.1,463.9 L153.6,464.5 L160.2,464.5 L166.8,463.9 L173.2,462.8 L179.6,461.2 L185.9,459.0 L192.1,456.3 L198.1,453.0 L203.9,449.2 L209.5,444.7 L214.6,439.4 L219.2,433.4 L223.0,426.4 L225.8,418.7 L227.4,410.6 L227.8,402.3 L226.9,393.7 L224.6,385.3 L220.9,377.5 L216.2,370.6 L210.9,364.5 L205.1,359.2 L199.1,354.7 L193.1,350.8 L187.1,347.4 L181.2,344.4 L175.3,341.7 L169.5,339.3 L163.8,337.0 L158.2,334.9 L152.6,332.9 L147.1,330.8 L141.6,328.6 L136.2,326.2 L131.0,323.8 L126.4,321.3 L122.7,318.9 L120.0,316.7 L118.6,315.1 L118.1,314.3 L118.2,314.4 L118.0,313.5 L117.9,311.2 L118.3,308.0 L119.1,304.2 L120.4,300.2 L122.0,296.3 L123.9,292.6 L126.2,288.8 L128.9,285.1 L132.0,281.5 L135.5,277.8 L139.3,274.2 L143.5,270.7 L147.9,267.2 L152.5,263.9 L157.1,260.7 L161.9,257.7 L166.8,254.9 L171.8,252.2 L176.9,249.8 L182.1,247.6 L187.4,245.7 L192.8,244.0 L198.3,242.6 L203.8,241.5 L209.4,240.7 L215.1,240.3 L220.7,240.2 L226.4,240.4 L232.1,241.0 L237.7,242.0 L242.5,241.0 L246.4,238.1 L248.6,233.8 L248.8,228.9 L246.8,224.4 L243.1,221.2Z"/></g>
<rect x="206.30" y="331.70" width="11.50" height="1.80" fill="#000"/>
<path d="M224.97,325.20 L226.59,325.20 L226.59,338.80 L224.97,338.80 L224.97,326.95 L221.13,329.51 L221.00,327.83Z" fill="#000"/>
<rect x="238.90" y="338.60" width="16.70" height="2.00" fill="#000"/>
<rect x="238.90" y="345.15" width="16.70" height="2.00" fill="#000"/>
<text transform="translate(264.96,351.25) scale(0.9393,1)" font-size="30.70">2.7</text>
<text transform="translate(312.80,351.15) scale(0.9160,1)" font-size="30.50">G</text><text transform="translate(333.43,351.15) scale(1.0945,1)" font-size="27.90">e</text><text transform="translate(349.27,351.15) scale(0.8409,1)" font-size="30.50">V</text>
<rect x="143.35" y="384.25" width="32.8" height="7.6" fill="#ffcb33" stroke="#d6aa2b" stroke-width="0.7"/>
<g transform="translate(183.00,370.00) scale(0.07500)" fill="#000"><path d="M204.3,62.1 L203.8,63.6 L202.8,65.4 L201.5,67.4 L200.0,69.5 L198.1,71.7 L196.2,74.1 L194.1,76.5 L192.0,79.0 L190.0,81.6 L188.0,84.3 L186.3,87.2 L184.7,90.3 L183.6,93.7 L182.9,97.4 L183.0,101.4 L184.0,105.5 L185.9,109.4 L188.6,113.0 L192.1,116.3 L195.3,117.8 L198.9,117.8 L202.1,116.2 L204.3,113.4 L205.0,109.9 L204.2,106.4 L201.9,103.7 L199.8,102.1 L198.5,100.8 L197.7,99.8 L197.3,98.9 L197.0,97.8 L197.0,96.5 L197.3,94.9 L197.9,93.0 L198.9,90.9 L200.2,88.7 L201.8,86.4 L203.5,84.0 L205.4,81.5 L207.3,79.1 L209.2,76.6 L211.1,74.1 L212.8,71.5 L214.4,68.8 L215.7,65.9 L216.0,63.3 L215.1,60.8 L213.2,58.9 L210.6,58.0 L208.0,58.4 L205.7,59.8Z"/><path d="M260.0,85.1 L254.2,85.3 L248.8,86.4 L243.8,88.2 L239.2,90.5 L234.9,93.0 L230.7,95.5 L226.6,97.7 L222.4,99.4 L217.8,100.7 L213.0,101.7 L207.9,102.5 L202.6,103.3 L197.2,104.3 L191.9,105.4 L186.6,106.7 L181.4,108.2 L176.1,109.9 L170.9,111.8 L165.8,113.9 L160.7,116.3 L155.8,118.9 L150.9,121.8 L146.2,125.0 L141.6,128.6 L137.2,132.5 L133.0,136.7 L129.0,141.3 L125.3,146.3 L121.9,151.6 L118.9,157.4 L116.3,163.7 L114.4,170.4 L113.3,177.6 L113.2,185.1 L114.5,192.9 L117.3,200.5 L121.3,207.1 L126.1,212.7 L131.4,217.4 L137.2,221.3 L143.1,224.4 L149.1,226.7 L155.1,228.4 L160.9,229.6 L166.6,230.4 L172.1,230.9 L177.5,231.4 L182.8,231.8 L187.9,232.4 L192.9,233.2 L197.8,234.3 L202.7,235.7 L207.6,237.2 L212.6,238.7 L217.7,240.1 L222.8,241.2 L228.1,241.9 L233.4,242.0 L238.8,241.5 L245.4,239.6 L250.6,235.1 L253.3,228.7 L252.9,221.8 L249.6,215.7 L244.0,211.7 L237.2,210.5 L232.7,210.3 L228.2,210.5 L223.7,211.1 L219.1,211.8 L214.4,212.6 L209.6,213.3 L204.7,214.0 L199.8,214.4 L194.9,214.5 L190.0,214.3 L185.3,213.6 L180.7,212.6 L176.3,211.2 L172.3,209.4 L168.6,207.4 L165.2,205.0 L162.2,202.4 L159.7,199.6 L157.4,196.6 L155.6,193.6 L154.2,190.7 L153.3,188.0 L152.9,185.9 L152.7,184.2 L152.6,182.4 L152.6,180.1 L152.7,177.4 L153.1,174.2 L153.8,170.7 L154.8,167.1 L156.0,163.4 L157.5,159.8 L159.2,156.2 L161.1,152.7 L163.3,149.3 L165.7,145.9 L168.3,142.6 L171.2,139.3 L174.3,136.2 L177.6,133.1 L181.1,130.3 L184.7,127.6 L188.5,125.2 L192.5,123.1 L196.6,121.4 L200.9,120.0 L205.2,119.1 L209.6,118.6 L214.3,118.5 L219.2,118.7 L224.4,119.1 L230.0,119.7 L235.5,120.2 L241.0,120.7 L246.2,121.0 L251.2,121.1 L255.9,120.8 L260.1,120.2 L264.0,118.9 L271.1,116.3 L276.5,111.0 L278.9,103.8 L278.0,96.3 L273.9,89.9 L267.5,85.9Z"/><path d="M238.3,220.0 L232.0,220.8 L225.7,221.7 L219.5,222.6 L213.4,223.5 L207.2,224.4 L201.1,225.4 L195.1,226.4 L189.0,227.6 L182.9,228.7 L176.8,230.0 L170.8,231.4 L164.7,232.9 L158.6,234.5 L152.6,236.2 L146.5,238.1 L140.5,240.2 L134.4,242.4 L128.4,244.8 L122.3,247.4 L116.3,250.5 L110.2,253.9 L104.2,258.0 L98.4,262.6 L92.8,267.9 L87.7,274.0 L83.0,280.8 L79.1,288.4 L75.9,296.6 L73.9,305.6 L73.2,315.2 L74.6,325.6 L78.6,335.9 L84.6,344.3 L91.4,350.7 L98.5,355.8 L105.7,359.8 L112.7,363.1 L119.4,365.9 L125.7,368.4 L131.7,370.7 L137.4,372.9 L142.9,375.1 L148.1,377.1 L153.2,379.2 L158.0,381.3 L162.7,383.4 L167.2,385.6 L171.7,387.9 L176.0,390.3 L180.0,392.7 L183.6,395.1 L186.8,397.4 L189.6,399.8 L192.2,402.1 L194.5,404.8 L196.7,408.0 L198.4,411.8 L199.6,415.8 L200.1,420.0 L199.8,424.1 L198.4,428.4 L196.1,432.6 L193.0,436.6 L189.2,440.2 L184.9,443.4 L180.2,446.1 L175.3,448.2 L170.2,449.8 L165.0,450.9 L159.6,451.4 L154.2,451.5 L148.8,451.0 L143.5,450.0 L138.5,448.4 L133.8,446.3 L129.5,443.6 L125.8,440.3 L122.8,436.5 L120.6,432.2 L117.7,429.3 L113.9,428.0 L110.0,428.5 L106.6,430.7 L104.5,434.1 L104.1,438.1 L105.4,441.8 L110.5,447.3 L116.0,451.8 L121.8,455.6 L127.8,458.6 L134.1,461.0 L140.5,462.7 L147.1,463.9 L153.6,464.5 L160.2,464.5 L166.8,463.9 L173.2,462.8 L179.6,461.2 L185.9,459.0 L192.1,456.3 L198.1,453.0 L203.9,449.2 L209.5,444.7 L214.6,439.4 L219.2,433.4 L223.0,426.4 L225.8,418.7 L227.4,410.6 L227.8,402.3 L226.9,393.7 L224.6,385.3 L220.9,377.5 L216.2,370.6 L210.9,364.5 L205.1,359.2 L199.1,354.7 L193.1,350.8 L187.1,347.4 L181.2,344.4 L175.3,341.7 L169.5,339.3 L163.8,337.0 L158.2,334.9 L152.6,332.9 L147.1,330.8 L141.6,328.6 L136.2,326.2 L131.0,323.8 L126.4,321.3 L122.7,318.9 L120.0,316.7 L118.6,315.1 L118.1,314.3 L118.2,314.4 L118.0,313.5 L117.9,311.2 L118.3,308.0 L119.1,304.2 L120.4,300.2 L122.0,296.3 L123.9,292.6 L126.2,288.8 L128.9,285.1 L132.0,281.5 L135.5,277.8 L139.3,274.2 L143.5,270.7 L147.9,267.2 L152.5,263.9 L157.1,260.7 L161.9,257.7 L166.8,254.9 L171.8,252.2 L176.9,249.8 L182.1,247.6 L187.4,245.7 L192.8,244.0 L198.3,242.6 L203.8,241.5 L209.4,240.7 L215.1,240.3 L220.7,240.2 L226.4,240.4 L232.1,241.0 L237.7,242.0 L242.5,241.0 L246.4,238.1 L248.6,233.8 L248.8,228.9 L246.8,224.4 L243.1,221.2Z"/></g>
<rect x="206.30" y="378.20" width="11.50" height="1.80" fill="#000"/>
<path d="M224.97,371.70 L226.59,371.70 L226.59,385.30 L224.97,385.30 L224.97,373.45 L221.13,376.01 L221.00,374.33Z" fill="#000"/>
<rect x="238.90" y="385.10" width="16.70" height="2.00" fill="#000"/>
<rect x="238.90" y="391.65" width="16.70" height="2.00" fill="#000"/>
<text transform="translate(264.93,397.75) scale(0.9572,1)" font-size="30.70">2.5</text>
<text transform="translate(312.80,397.65) scale(0.9160,1)" font-size="30.50">G</text><text transform="translate(333.43,397.65) scale(1.0945,1)" font-size="27.90">e</text><text transform="translate(349.27,397.65) scale(0.8409,1)" font-size="30.50">V</text>
</svg>
</body></html>
